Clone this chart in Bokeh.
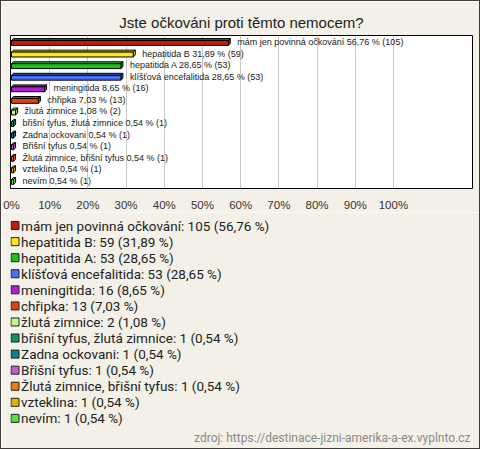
from bokeh.plotting import figure
from bokeh.layouts import column
from bokeh.models import (ColumnDataSource, Range1d, FixedTicker, CustomJSTickFormatter, Label)
from bokeh.core.properties import value
from bokeh.embed import file_html
from bokeh.resources import INLINE

categories = ["mám jen povinná očkování", "hepatitida B", "hepatitida A",
              "klíšťová encefalitida", "meningitida", "chřipka", "žlutá zimnice",
              "břišní tyfus, žlutá zimnice", "Zadna ockovani", "Břišní tyfus",
              "Žlutá zimnice, břišní tyfus", "vzteklina", "nevím"]
counts = [105, 59, 53, 53, 16, 13, 2, 1, 1, 1, 1, 1, 1]
percents = [56.76, 31.89, 28.65, 28.65, 8.65, 7.03, 1.08, 0.54, 0.54, 0.54, 0.54, 0.54, 0.54]
colors = ["#bf1e0c", "#ffe81a", "#1fbf1f", "#4a6ff0", "#b41ed2", "#e2420f", "#c9f58f",
          "#14935f", "#187d91", "#c35ec3", "#f07a12", "#e2b400", "#4fe645"]
tick_values = [0, 10, 20, 30, 40, 50, 60, 70, 80, 90, 100]
source_text = "zdroj: https://destinace-jizni-amerika-a-ex.vyplnto.cz"

def fmt(v):
    return ("%.2f" % v).replace(".", ",")

n = len(categories)
ys = list(range(n))
BG = "#f3f1e7"
BORDER = "1px solid #3c3c3c"

# pixel geometry helpers (styling)
px_x = 3.8      # pixels per percent
px_y = 11.88    # pixels per row
dx = 2.0 / px_x
dy = 2.0 / px_y
h_top = 1.5 / px_y
h_bot = 3.5 / px_y

# ---------------- main bar chart ----------------
p = figure(width=480, height=212, output_backend="svg", toolbar_location=None,
           x_range=Range1d(-0.26, 120.7), y_range=Range1d(n - 1 + 0.65, -0.56),
           min_border_left=9, min_border_right=9, min_border_top=34, min_border_bottom=20)
p.background_fill_color = "white"
p.border_fill_color = BG
p.outline_line_color = "#000000"
p.outline_line_width = 1
p.styles = {"border-top": BORDER, "border-left": BORDER, "border-right": BORDER,
            "box-sizing": "border-box"}

p.title.text = "Jste očkováni proti těmto nemocem?"
p.title.align = "center"
p.title.text_font = "Liberation Sans"
p.title.text_font_size = "15px"
p.title.text_font_style = "normal"
p.title.text_color = "#222222"
p.title.standoff = 9

p.yaxis.visible = False
p.ygrid.visible = False
p.xgrid.ticker = FixedTicker(ticks=tick_values[1:])
p.xgrid.grid_line_color = "#c8c8c8"
p.xaxis.ticker = FixedTicker(ticks=tick_values)
p.xaxis.formatter = CustomJSTickFormatter(code="return tick + '%';")
p.xaxis.axis_line_color = None
p.xaxis.major_tick_line_color = None
p.xaxis.minor_tick_line_color = None
p.xaxis.major_label_text_font = "Liberation Sans"
p.xaxis.major_label_text_font_size = "11.5px"
p.xaxis.major_label_text_color = "#333333"
p.xaxis.major_label_standoff = 4

top_edge = [y - h_top for y in ys]
bot_edge = [y + h_bot for y in ys]
src = ColumnDataSource(dict(y=ys, pct=percents, color=colors, top=top_edge, bottom=bot_edge,
                            lab=["%s %s %% (%d)" % (c, fmt(v), k) for c, v, k in zip(categories, percents, counts)]))

top_xs, top_ys, side_xs, side_ys = [], [], [], []
for v, t, b in zip(percents, top_edge, bot_edge):
    top_xs.append([0, dx, v + dx, v])
    top_ys.append([t, t - dy, t - dy, t])
    side_xs.append([v, v + dx, v + dx, v])
    side_ys.append([t, t - dy, b - dy, b])
p.patches(top_xs, top_ys, fill_color=colors, line_color="black", line_width=1)
p.patches(side_xs, side_ys, fill_color=colors, line_color="black", line_width=1)
p.quad(left=0, right="pct", top="top", bottom="bottom", fill_color="color",
       line_color="black", line_width=1, source=src)

p.text(x="pct", y="y", text="lab", source=src, x_offset=9, text_baseline="middle",
       text_font=value("Liberation Sans"), text_font_size="9px", text_color="#222222")

# ---------------- legend panel (frame aligned with the chart frame: x 10..470) ----------------
LH = 236
lg = figure(width=480, height=237, output_backend="svg", toolbar_location=None,
            x_range=Range1d(10, 470), y_range=Range1d(LH, 0),
            x_axis_type=None, y_axis_type=None,
            min_border=0, min_border_left=0, min_border_right=0,
            min_border_top=0, min_border_bottom=0)
lg.grid.visible = False
lg.outline_line_color = None
lg.background_fill_color = BG
lg.border_fill_color = BG
lg.styles = {"border-bottom": BORDER, "border-left": BORDER, "border-right": BORDER,
             "box-sizing": "border-box"}

row_h = 16
first_y = 13
leg_src = ColumnDataSource(dict(
    x=[14.5] * n, tx=[20.5] * n,
    y=[first_y + row_h * i for i in range(n)],
    color=colors,
    lab=["%s: %d (%s %%)" % (c, k, fmt(v)) for c, k, v in zip(categories, counts, percents)]))
lg.scatter(x="x", y="y", marker="square", size=8, fill_color="color",
           line_color="#222222", line_width=1, source=leg_src)
lg.text(x="tx", y="y", text="lab", source=leg_src, text_baseline="middle",
        text_font=value("Roboto"), text_font_size="13.5px", text_color="#222222")

lg.add_layout(Label(x=468, y=225, text=source_text, text_align="right",
                    text_baseline="middle", text_font="Roboto", text_font_size="12px",
                    text_color="#8a8a8a"))

layout = column(p, lg, spacing=0)
open("out.html", "w").write(file_html(layout, INLINE))
